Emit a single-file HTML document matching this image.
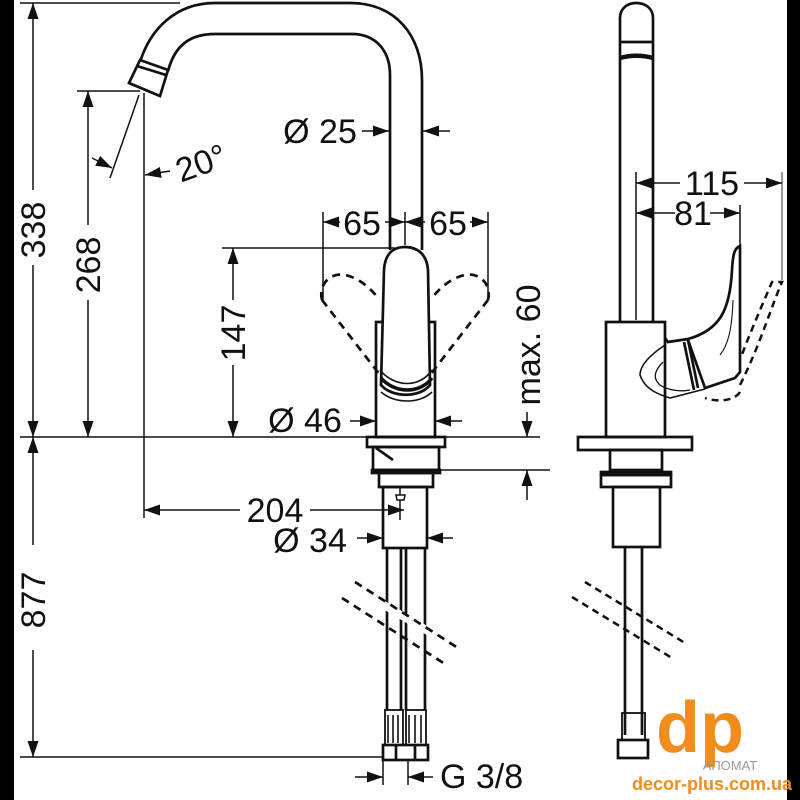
<!DOCTYPE html>
<html><head><meta charset="utf-8"><style>
html,body{margin:0;padding:0;background:#fff;}
svg{display:block;}
text{font-family:"Liberation Sans",sans-serif;fill:#111;}
</style></head><body>
<svg width="800" height="800" viewBox="0 0 800 800" xmlns="http://www.w3.org/2000/svg">
<defs>
<marker id="b" viewBox="0 0 16 11" refX="16" refY="5.5" markerWidth="16" markerHeight="11" markerUnits="userSpaceOnUse" orient="auto"><path d="M0,0 L16,5.5 L0,11 z" fill="#111"/></marker>
</defs>
<rect x="0" y="0" width="800" height="800" fill="#fff"/>
<rect x="0" y="0" width="14" height="800" fill="#000"/>
<rect x="787" y="0" width="13" height="800" fill="#000"/>

<g stroke="#111" fill="none" stroke-width="1.5">
<line x1="20" y1="3" x2="180" y2="3"/>
<line x1="20" y1="437" x2="540" y2="437"/>
<line x1="77" y1="91" x2="140" y2="91"/>
<line x1="20" y1="757" x2="383" y2="757"/>
<line x1="144" y1="93" x2="144" y2="518"/>
<line x1="222" y1="248" x2="395" y2="248"/>
<line x1="323" y1="212" x2="323" y2="300"/>
<line x1="405" y1="212" x2="405" y2="245"/>
<line x1="488" y1="212" x2="488" y2="300"/>
<line x1="440" y1="470" x2="550" y2="470"/>
<line x1="383" y1="755" x2="383" y2="785"/>
<line x1="408" y1="760" x2="408" y2="785"/>
<line x1="400" y1="500" x2="400" y2="520"/>
<line x1="33" y1="190" x2="33" y2="3" marker-end="url(#b)"/>
<line x1="33" y1="265" x2="33" y2="437" marker-end="url(#b)"/>
<line x1="33" y1="545" x2="33" y2="437" marker-end="url(#b)"/>
<line x1="33" y1="650" x2="33" y2="757" marker-end="url(#b)"/>
<line x1="88" y1="225" x2="88" y2="91" marker-end="url(#b)"/>
<line x1="88" y1="300" x2="88" y2="437" marker-end="url(#b)"/>
<line x1="233" y1="300" x2="233" y2="248" marker-end="url(#b)"/>
<line x1="233" y1="365" x2="233" y2="437" marker-end="url(#b)"/>
<line x1="139" y1="95" x2="110" y2="178"/>
<line x1="92" y1="158" x2="112" y2="168" marker-end="url(#b)"/>
<line x1="170" y1="171" x2="145" y2="175" marker-end="url(#b)"/>
<line x1="362" y1="131" x2="389" y2="131" marker-end="url(#b)"/>
<line x1="450" y1="131" x2="423" y2="131" marker-end="url(#b)"/>
<line x1="340" y1="222" x2="323" y2="222" marker-end="url(#b)"/>
<line x1="385" y1="222" x2="405" y2="222" marker-end="url(#b)"/>
<line x1="425" y1="222" x2="405" y2="222" marker-end="url(#b)"/>
<line x1="470" y1="222" x2="488" y2="222" marker-end="url(#b)"/>
<line x1="350" y1="421" x2="376" y2="421" marker-end="url(#b)"/>
<line x1="462" y1="421" x2="435" y2="421" marker-end="url(#b)"/>
<line x1="527" y1="412" x2="527" y2="437" marker-end="url(#b)"/>
<line x1="527" y1="500" x2="527" y2="470" marker-end="url(#b)"/>
<line x1="240" y1="510" x2="144" y2="510" marker-end="url(#b)"/>
<line x1="310" y1="510" x2="404" y2="510" marker-end="url(#b)"/>
<line x1="357" y1="538" x2="383" y2="538" marker-end="url(#b)"/>
<line x1="453" y1="538" x2="427" y2="538" marker-end="url(#b)"/>
<line x1="355" y1="777" x2="383" y2="777" marker-end="url(#b)"/>
<line x1="433" y1="777" x2="408" y2="777" marker-end="url(#b)"/>
</g>

<g stroke="#111" fill="none" stroke-width="2.7">
<path d="M140,62 C150,30 175,3 215,3 L350,3 C395,3 422,35 422,80 L422,250"/>
<path d="M168,71 C175,45 190,34 215,34 L352,34 C375,34 390,50 390,75 L390,250"/>
<path d="M129,83 L140,60 L168,70 L160,96 Z" fill="#fff"/>
<line x1="137" y1="66" x2="166" y2="75"/>
<rect x="376" y="322" width="59" height="115"/>
<path d="M381,385 L384,270 C385,252 395,247 405,247 C418,247 427,255 428,270 L430,385 C420,398 392,398 381,385 Z" fill="#fff"/>
<path d="M380,370 C395,388 420,388 432,370" stroke-width="1.6"/>
<path d="M381,378 C395,394 420,394 432,378" stroke-width="3.5"/>
<path d="M381,392 C395,404 420,404 432,392" stroke-width="1.6"/>
<rect x="367" y="437" width="78" height="10"/>
<rect x="373" y="447" width="66" height="23"/>
<line x1="376" y1="448" x2="393" y2="460"/>
<rect x="372" y="470" width="68" height="3" fill="#111"/>
<rect x="379" y="473" width="54" height="14"/>
<rect x="383" y="487" width="44" height="61"/>
<path d="M400,487 L400,495 M396,495 L405,495 L404,500 L397,500 Z" stroke-width="1.5"/>
<line x1="387" y1="548" x2="387" y2="710"/>
<line x1="401" y1="548" x2="401" y2="710"/>
<line x1="406" y1="548" x2="406" y2="710"/>
<line x1="425" y1="548" x2="425" y2="710"/>
<rect x="385" y="710" width="18" height="35" stroke-width="1.8"/>
<rect x="406" y="710" width="20" height="35" stroke-width="1.8"/>
<path d="M388,715 v28 M393,715 v28 M398,715 v28 M409,715 v28 M415,715 v28 M421,715 v28" stroke-width="1.6"/>
<rect x="383" y="745" width="45" height="15"/>
<line x1="396" y1="745" x2="396" y2="760"/>
<line x1="415" y1="745" x2="415" y2="760"/>
</g>
<g stroke="#fff" stroke-width="8"><line x1="345" y1="582" x2="460" y2="650"/></g>
<g stroke="#111" stroke-width="2.7" stroke-dasharray="8,6" fill="none">
<line x1="355" y1="582" x2="458" y2="648"/>
<line x1="342" y1="598" x2="445" y2="664"/>
<path d="M322,300 C318,285 330,272 345,275 C360,278 372,290 378,298"/>
<path d="M322,300 L380,375"/>
<path d="M488,300 C492,285 480,272 465,275 C450,278 438,290 432,298"/>
<path d="M488,300 L430,375"/>
</g>

<g stroke="#111" fill="none" stroke-width="2.7">
<path d="M620,322 L620,18 C620,8 628,3 636,3 C645,3 653,8 653,18 L653,322"/>
<line x1="620" y1="42" x2="653" y2="42"/>
<path d="M620,58 C630,55 643,55 653,58" stroke-width="4.5"/>
<rect x="606" y="322" width="59" height="115"/>
<path d="M578,437 L692,437 L692,450 L578,450 Z"/>
<rect x="610" y="450" width="52" height="20"/>
<rect x="601" y="472" width="70" height="3" fill="#111"/>
<rect x="601" y="475" width="70" height="12"/>
<rect x="613" y="487" width="47" height="60"/>
<line x1="625" y1="547" x2="625" y2="735"/>
<line x1="642" y1="547" x2="642" y2="735"/>
<rect x="622" y="713" width="23" height="27" stroke-width="1.8"/>
<rect x="618" y="740" width="30" height="18"/>
<path d="M665,338 L668,342 L688,339 C720,330 730,310 732,270 C733,252 735,248 740,246 L740,372 L735,378 L705,388 L688,340" fill="#fff"/>
<path d="M688,340 L698,388 M684,342 L694,390"/>
<path d="M665,345 C650,355 640,365 640,375 C645,390 660,395 670,398 L705,389" stroke-width="1.6"/>
<path d="M663,362 C655,370 652,378 660,385 C667,390 680,392 690,390" stroke-width="1.3"/>
<path d="M733,300 C732,330 728,345 720,355" stroke-width="1.1"/>
</g>
<g stroke="#111" stroke-width="2.5" stroke-dasharray="7,5" fill="none">
<path d="M740,385 C760,345 770,310 782,282 L772,282 C760,310 745,345 742,355"/>
<path d="M740,392 C735,400 720,403 705,398"/>
<line x1="585" y1="582" x2="685" y2="643"/>
<line x1="572" y1="597" x2="672" y2="658"/>
</g>
<g stroke="#111" stroke-width="1.5" fill="none">
<line x1="636" y1="172" x2="636" y2="320"/>
<line x1="740" y1="205" x2="740" y2="255"/>
<line x1="782" y1="172" x2="782" y2="280" stroke="#777"/>
<line x1="680" y1="183" x2="636" y2="183" marker-end="url(#b)"/>
<line x1="744" y1="183" x2="782" y2="183" marker-end="url(#b)"/>
<line x1="675" y1="213" x2="636" y2="213" marker-end="url(#b)"/>
<line x1="710" y1="213" x2="740" y2="213" marker-end="url(#b)"/>
</g>

<g font-size="34">
<text transform="translate(45,230) rotate(-90)" text-anchor="middle">338</text>
<text transform="translate(45,600) rotate(-90)" text-anchor="middle">877</text>
<text transform="translate(100,265) rotate(-90)" text-anchor="middle">268</text>
<text transform="translate(245,333) rotate(-90)" text-anchor="middle">147</text>
<text transform="translate(540,345) rotate(-90)" text-anchor="middle">max. 60</text>
<text transform="translate(205,174) rotate(-20)" text-anchor="middle">20°</text>
<text x="320" y="143" text-anchor="middle">Ø 25</text>
<text x="362" y="235" text-anchor="middle">65</text>
<text x="448" y="235" text-anchor="middle">65</text>
<text x="305" y="432" text-anchor="middle">Ø 46</text>
<text x="275" y="522" text-anchor="middle">204</text>
<text x="310" y="552" text-anchor="middle">Ø 34</text>
<text x="440" y="788">G 3/8</text>
<text x="712" y="195" text-anchor="middle">115</text>
<text x="693" y="225" text-anchor="middle">81</text>
</g>
<text x="700" y="752" font-size="72" font-weight="bold" text-anchor="middle" style="fill:#f28c1c">dp</text>
<text x="712" y="790" font-size="18" font-weight="bold" text-anchor="middle" style="fill:#f28c1c">decor-plus.com.ua</text>
<text x="730" y="770" font-size="13" text-anchor="middle" style="fill:#999">АПОМАТ</text>
</svg>
</body></html>
